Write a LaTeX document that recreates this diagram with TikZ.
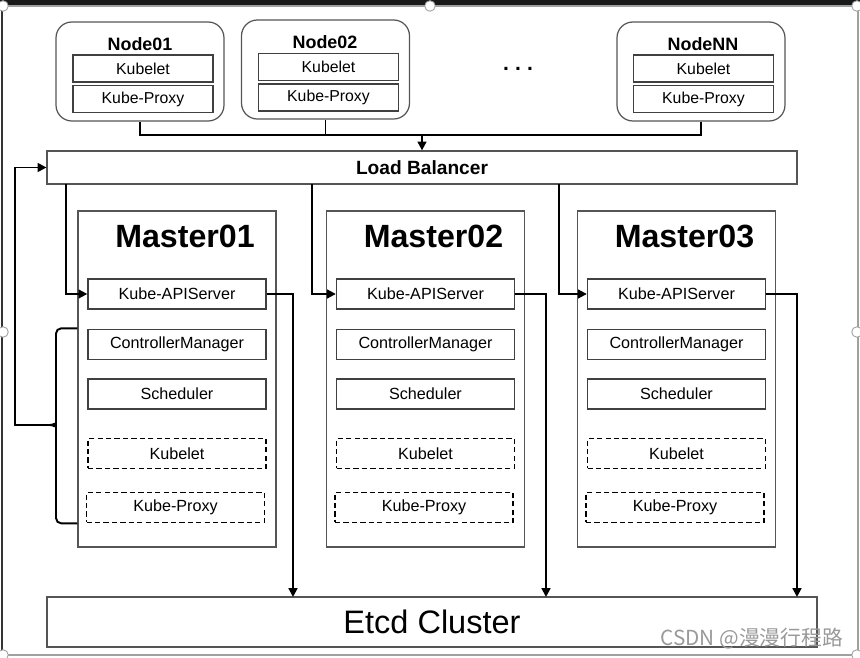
\documentclass[tikz,border=0pt]{standalone}
\usepackage{fontspec}
\setmainfont{Liberation Sans}
\newfontfamily\cjkfont{Noto Sans CJK SC}
\usepackage{xcolor}
\definecolor{kbgray}{RGB}{85,85,85}
\definecolor{kbframe}{RGB}{160,160,160}
\usetikzlibrary{arrows.meta, positioning}
\tikzset{
  nodebox/.style={draw=kbgray, line width=0.7pt, rounded corners=9pt,
    minimum width=3.36cm, minimum height=1.98cm, inner sep=0pt},
  partbox/.style={draw=black!75, line width=0.8pt, minimum width=2.8cm,
    minimum height=0.54cm, inner sep=0pt, font=\fontsize{9}{10}\selectfont},
  compbox/.style={draw=black!75, line width=0.8pt, minimum width=3.56cm,
    minimum height=0.6cm, inner sep=0pt, font=\fontsize{9.2}{10}\selectfont},
  dashbox/.style={compbox, draw=black, line width=1pt, dash pattern=on 3pt off 1.8pt},
  masterbox/.style={draw=kbgray, line width=0.7pt, minimum width=3.96cm,
    minimum height=6.72cm, inner sep=0pt},
  link/.style={line width=1.1pt},
  linkto/.style={link, -{Triangle[length=5pt, width=5pt]}},
}

\begin{document}
\begin{tikzpicture}[x=0.02cm, y=-0.02cm]
      \useasboundingbox (0,0) rectangle (860,658);
      % screen frame
      \fill[black!90] (0,0) rectangle (860,5);
      \draw[kbframe, line width=0.6pt] (2,6) rectangle (858,655);
      \draw[black!80, line width=0.8pt] (2,6) -- (2,655);

      % worker nodes
      \node[nodebox] (n1) at (140,71.5) {};
      \node[nodebox] (n2) at (325.5,69.5) {};
      \node[nodebox] (nn) at (701,71.5) {};
      \node[font=\bfseries\fontsize{10.2}{12}\selectfont] (n1t) at (140,44) {Node01};
      \node[font=\bfseries\fontsize{10.2}{12}\selectfont] (n2t) at (325,42) {Node02};
      \node[font=\bfseries\fontsize{10.2}{12}\selectfont] (nnt) at (703,44) {NodeNN};
      \node[partbox] (n1k) at (143,68.5) {Kubelet};
      \node[partbox] (n1p) at (143,99) {Kube-Proxy};
      \node[partbox] (n2k) at (328.5,67) {Kubelet};
      \node[partbox] (n2p) at (328.5,97.5) {Kube-Proxy};
      \node[partbox] (nnk) at (703.5,68.5) {Kubelet};
      \node[partbox] (nnp) at (703.5,99) {Kube-Proxy};
      \node[font=\bfseries\fontsize{12}{12}\selectfont] (dots) at (518,69)
            {.\hspace{3.5pt}.\hspace{3.5pt}.};

      % load balancer and etcd
      \node[draw=kbgray, line width=0.7pt, minimum width=15cm, minimum height=0.66cm,
            font=\bfseries\fontsize{10.9}{12}\selectfont] (lb) at (422,167.5) {Load Balancer};
      \node[draw=kbgray, line width=0.7pt, minimum width=15.4cm, minimum height=1cm,
            font=\fontsize{18.5}{20}\selectfont] (etcd) at (432,622) {Etcd Cluster};

      \coordinate (jn) at (422,135);
      \draw[link] (n1.south) |- (jn);
      \draw[link] (n2.south) |- (jn);
      \draw[link] (nn.south) |- (jn);
      \draw[linkto] (jn) -- (lb.north);

      % masters
      \foreach \i/\x/\d/\e in {1/177/66/293, 2/425.5/312/546, 3/676.5/559/797}{
        \node[masterbox] (m\i) at (\x,379) {};
        \node[font=\bfseries\fontsize{18.3}{20}\selectfont] (mt\i) at (\x+8,236) {Master0\i};
        \node[compbox] (api\i) at (\x,294) {Kube-APIServer};
        \node[compbox] (cm\i) at (\x,344.5) {ControllerManager};
        \node[compbox] (sch\i) at (\x,394) {Scheduler};
        \node[dashbox] (kl\i) at (\x,453.5) {Kubelet};
        \node[dashbox] (kp\i) at (\x-1.5,507.5) {Kube-Proxy};
        \coordinate (d\i) at (\d,184);
        \coordinate (e\i) at (\e,597);
        \draw[linkto] (d\i) |- (api\i.west);
        \draw[linkto] (api\i.east) -| (e\i);
      }

      % bracket back to the load balancer
      \coordinate (bt) at (50,425);
      \coordinate (fb) at (15,425);
      \draw[link, rounded corners=3pt] (m1.west |- cm1.north) ++(0,-0.5) -| (56,419) to[out=-90, in=0] (bt);
      \draw[link, rounded corners=3pt] (m1.west |- kp1.south) -| (56,431) to[out=90, in=0] (bt);
      \draw[linkto] (bt) -- (fb) |- (lb.west);

      % window handles
      \foreach \p in {(3,6),(430,6),(857,6),(3,332),(857,332),(3,655),(857,655)}
        \draw[kbframe, fill=white, line width=0.5pt] \p circle (3pt);

      \node[text=black!40, anchor=east, font=\cjkfont\fontsize{11.8}{12}\selectfont] (wm)
            at (849,639) {CSDN @漫漫行程路};
    \end{tikzpicture}
\end{document}
